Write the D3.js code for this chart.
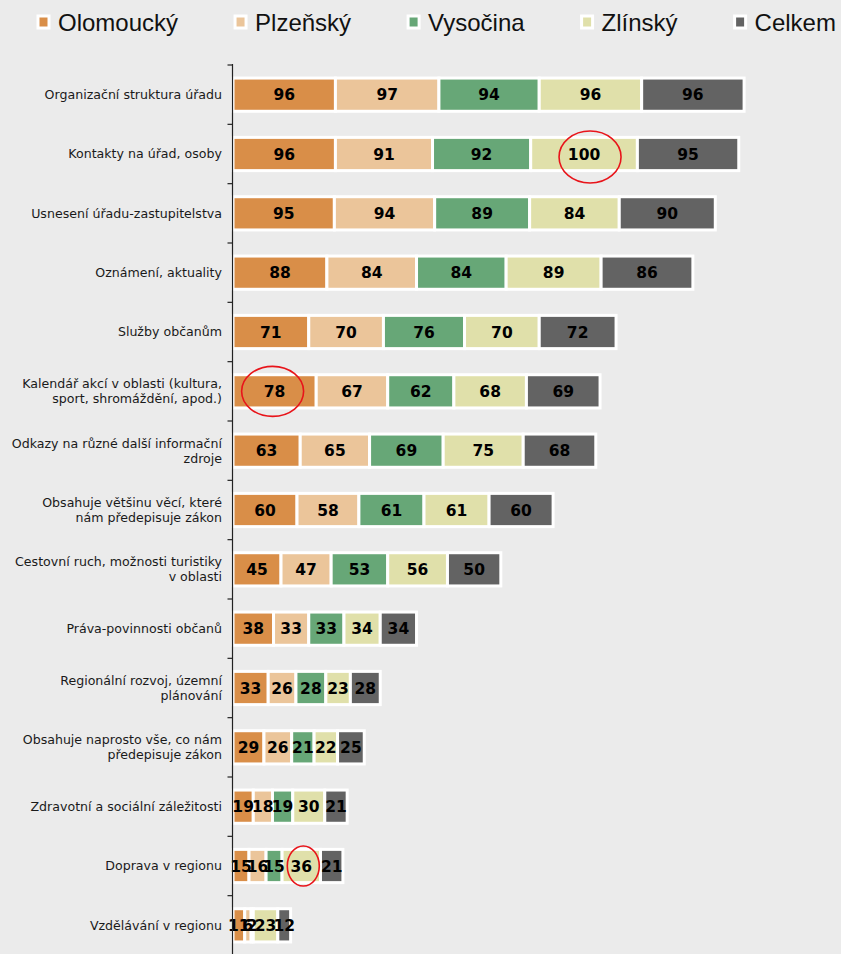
<!DOCTYPE html>
<html>
<head>
<meta charset="utf-8">
<script src="https://cdn.jsdelivr.net/npm/d3@7"></script>
<style>
  html, body { margin: 0; padding: 0; background: #ebebeb; }
  svg { display: block; }
</style>
</head>
<body>
<svg id="chart" width="841" height="954"></svg>
<script>
const categories = [
  "Organizační struktura úřadu",
  "Kontakty na úřad, osoby",
  "Usnesení úřadu-zastupitelstva",
  "Oznámení, aktuality",
  "Služby občanům",
  "Kalendář akcí v oblasti (kultura,\nsport, shromáždění, apod.)",
  "Odkazy na různé další informační\nzdroje",
  "Obsahuje většinu věcí, které\nnám předepisuje zákon",
  "Cestovní ruch, možnosti turistiky\nv oblasti",
  "Práva-povinnosti občanů",
  "Regionální rozvoj, územní\nplánování",
  "Obsahuje naprosto vše, co nám\npředepisuje zákon",
  "Zdravotní a sociální záležitosti",
  "Doprava v regionu",
  "Vzdělávání v regionu"
];
const seriesNames = ["Olomoucký", "Plzeňský", "Vysočina", "Zlínský", "Celkem"];
const olomoucky = [96, 96, 95, 88, 71, 78, 63, 60, 45, 38, 33, 29, 19, 15, 11];
const plzensky  = [97, 91, 94, 84, 70, 67, 65, 58, 47, 33, 26, 26, 18, 16, 6];
const vysocina  = [94, 92, 89, 84, 76, 62, 69, 61, 53, 33, 28, 21, 19, 15, 2];
const zlinsky   = [96, 100, 84, 89, 70, 68, 75, 61, 56, 34, 23, 22, 30, 36, 23];
const celkem    = [96, 95, 90, 86, 72, 69, 68, 60, 50, 34, 28, 25, 21, 21, 12];
const seriesColors = ["#d98e48", "#ebc59a", "#67a777", "#e0e0aa", "#636363"];
// highlighted cells: [category index, series index]
const highlights = [[1, 3], [5, 0], [13, 3]];

const seriesValues = [olomoucky, plzensky, vysocina, zlinsky, celkem];
const table = categories.map((c, i) => {
  const row = { category: c };
  seriesNames.forEach((s, j) => row[s] = seriesValues[j][i]);
  return row;
});
const stacked = d3.stack().keys(seriesNames)(table);

const svg = d3.select("#chart");
const x = d3.scaleLinear().domain([0, 500]).range([233, 766.5]);
const y = d3.scaleBand().domain(categories).range([65, 955])
  .paddingInner(0.44).paddingOuter(0.22);
const color = d3.scaleOrdinal().domain(seriesNames).range(seriesColors);

// bars
const layers = svg.append("g").selectAll("g").data(stacked).join("g")
  .attr("fill", d => color(d.key));
layers.selectAll("rect").data(d => d).join("rect")
  .attr("x", d => x(d[0]))
  .attr("y", d => y(d.data.category))
  .attr("width", d => x(d[1]) - x(d[0]))
  .attr("height", y.bandwidth())
  .attr("stroke", "#ffffff")
  .attr("stroke-width", 3);

// value labels
const labels = svg.append("g");
stacked.forEach(layer => {
  labels.selectAll(null).data(layer).join("text")
    .attr("x", d => (x(d[0]) + x(d[1])) / 2)
    .attr("y", d => y(d.data.category) + y.bandwidth() / 2)
    .attr("dy", "0.36em")
    .attr("text-anchor", "middle")
    .attr("font-family", "'DejaVu Sans', Verdana, sans-serif")
    .attr("font-weight", "bold")
    .attr("font-size", 15.5)
    .attr("fill", "#000")
    .text(d => d[1] - d[0]);
});

// axis
const axisX = x(0) - 0.5;
const axisG = svg.append("g");
axisG.append("line")
  .attr("x1", axisX).attr("x2", axisX)
  .attr("y1", y.range()[0] - 1).attr("y2", 954)
  .attr("stroke", "#222").attr("stroke-width", 1.2);
const bounds = categories.map(c => y(c) - y.step() * y.paddingInner() / 2);
axisG.selectAll("line.tick").data(bounds).join("line")
  .attr("class", "tick")
  .attr("x1", axisX - 5).attr("x2", axisX)
  .attr("y1", d => d).attr("y2", d => d)
  .attr("stroke", "#222").attr("stroke-width", 1.2);

// category labels
const catG = svg.append("g");
categories.forEach(c => {
  const lines = c.split("\n");
  const lh = 15;
  const cy = y(c) + y.bandwidth() / 2;
  const t = catG.append("text")
    .attr("text-anchor", "end")
    .attr("font-family", "'DejaVu Sans', Verdana, sans-serif")
    .attr("font-size", 12.6)
    .attr("fill", "#1a1a1a");
  lines.forEach((ln, i) => {
    t.append("tspan")
      .attr("x", 222)
      .attr("y", cy + (i - (lines.length - 1) / 2) * lh)
      .attr("dy", "0.35em")
      .text(ln);
  });
});

// highlight ellipses
const hlSizes = [[31, 26, 6, 3], [31, 25, -2, 0], [16, 20, 2, 0]];
highlights.forEach(([ci, si], k) => {
  const seg = stacked[si][ci];
  const [rx, ry, dx, dy] = hlSizes[k];
  svg.append("ellipse")
    .attr("cx", (x(seg[0]) + x(seg[1])) / 2 + dx)
    .attr("cy", y(categories[ci]) + y.bandwidth() / 2 + dy)
    .attr("rx", rx).attr("ry", ry)
    .attr("fill", "none").attr("stroke", "#e8141a").attr("stroke-width", 1.6);
});

// legend
const legend = svg.append("g");
let lx = 38;
seriesNames.forEach((s, i) => {
  legend.append("rect")
    .attr("x", lx).attr("y", 16).attr("width", 11).attr("height", 12)
    .attr("fill", color(s)).attr("stroke", "#fff").attr("stroke-width", 3);
  const t = legend.append("text")
    .attr("x", lx + 20).attr("y", 22).attr("dy", "0.36em")
    .attr("font-family", "'Liberation Sans', Arial, sans-serif")
    .attr("font-size", 24).attr("fill", "#111")
    .text(s);
  lx += 20 + t.node().getComputedTextLength() + 57;
});
</script>
</body>
</html>
